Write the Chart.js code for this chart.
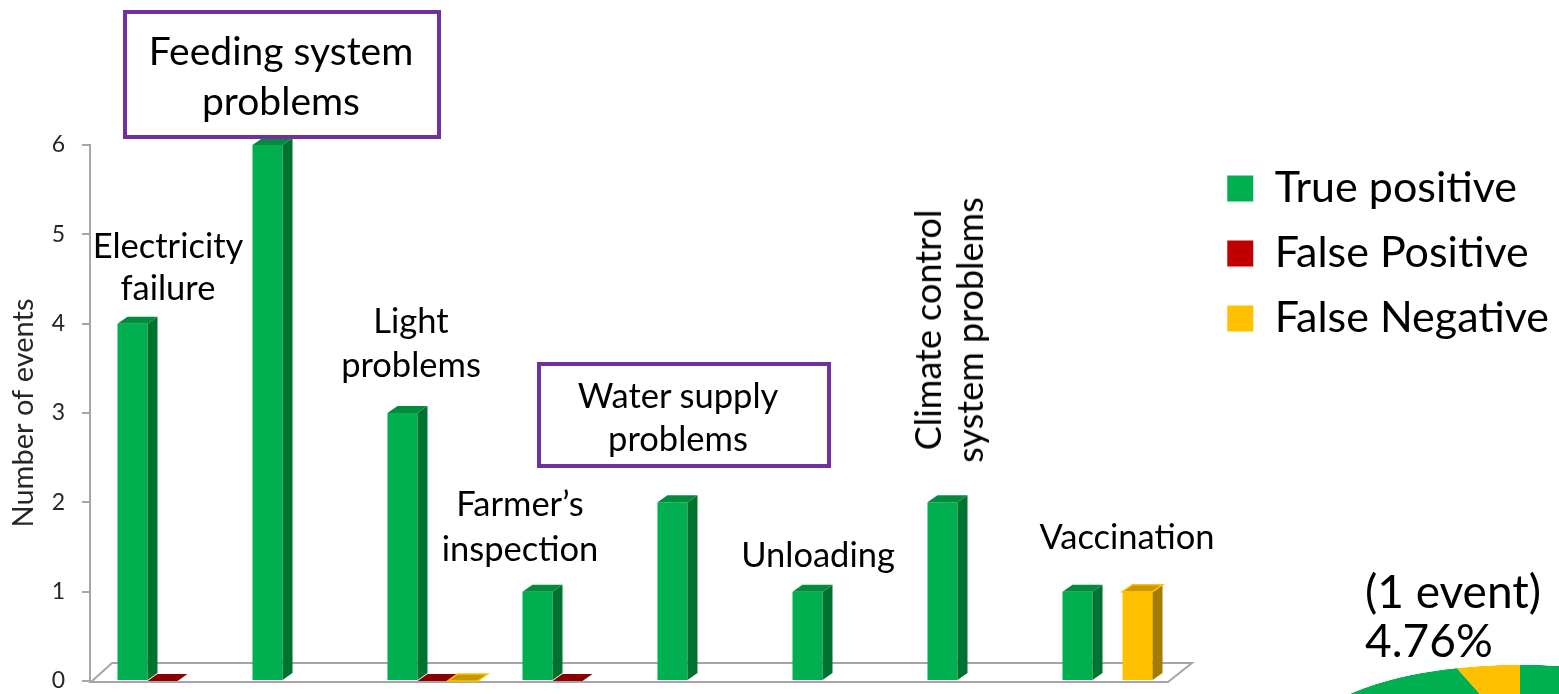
<!DOCTYPE html>
<html>
<head>
<meta charset="utf-8">
<script src="https://cdn.jsdelivr.net/npm/chart.js@4.4.0/dist/chart.umd.min.js"></script>
<style>
html, body { margin:0; padding:0; background:#fff; overflow:hidden; }
#wrap { position:relative; width:1559px; height:694px; overflow:hidden; font-family: Lato, sans-serif; }
#main_box { position:absolute; left:0; top:0; width:1559px; height:694px; }
#pie_box { position:absolute; left:1306px; top:525px; width:428px; height:428px; transform:scaleY(0.346); transform-origin:50% 50%; }
.note { position:absolute; color:#000; text-align:center; white-space:nowrap; transform:translate(-50%, -50%); font-size:34.5px; }
.frame { position:absolute; border:4px solid #7030a0; box-sizing:border-box; }
</style>
</head>
<body>
<div id="wrap">
  <div id="pie_box"><canvas id="pie_chart" width="428" height="428"></canvas></div>
  <div id="main_box"><canvas id="bar_chart"></canvas></div>

  <div class="frame" style="left:123px; top:10px; width:318px; height:129px;"></div>
  <div class="frame" style="left:537px; top:362px; width:294px; height:106px;"></div>

  <div class="note" style="left:281px; top:75px; line-height:50px; font-size:39px;">Feeding system<br>problems</div>
  <div class="note" style="left:168px; top:266px; line-height:42px;">Electricity<br>failure</div>
  <div class="note" style="left:411px; top:342px; line-height:44px;">Light<br>problems</div>
  <div class="note" style="left:520px; top:525px; line-height:45px;">Farmer’s<br>inspection</div>
  <div class="note" style="left:678px; top:416px; line-height:43px;">Water supply<br>problems</div>
  <div class="note" style="left:818px; top:553px;">Unloading</div>
  <div class="note" style="left:948px; top:330px; line-height:42px; font-size:36px; transform:translate(-50%, -50%) rotate(-90deg);">Climate control<br>system problems</div>
  <div class="note" style="left:1127px; top:535px;">Vaccination</div>
  <div class="note" style="left:1365px; top:615px; line-height:49px; text-align:left; transform:translate(0, -50%); font-size:46px;">(1 event)<br>4.76%</div>
</div>

<script>
//Chart values
const categories = ["Electricity failure", "Feeding system problems", "Light problems", "Farmer's inspection",
                    "Water supply problems", "Unloading", "Climate control system problems", "Vaccination"];
const true_positive = [4, 6, 3, 1, 2, 1, 2, 1];
const false_positive = [0, null, 0, 0, null, null, null, null];
const false_negative = [null, null, 0, null, null, null, null, 1];
const y_ticks = [0, 1, 2, 3, 4, 5, 6];
const pie_labels = ["True positive", "False Negative"];
const pie_values = [20, 1];

const FONT = "Lato";
const depth_x = 10, depth_y = 7;
const axis_x = 90;
const plot_left = 95, plot_right = 1175;

//Working out how much room the legend needs so its boxes land where the picture's do
const legend_font = 43, legend_pad = 22, legend_box = 26;
var m_ctx = document.createElement("canvas").getContext("2d");
m_ctx.font = legend_font + "px " + FONT;
var text_w = 0;
["True positive", "False Positive", "False Negative"].forEach(t => { text_w = Math.max(text_w, m_ctx.measureText(t).width); });
var legend_w = legend_pad + legend_box + legend_font / 2 + text_w + 10;
var pad_right = Math.max(0, 1559 - 1210 - legend_w);

//The bars only use part of the width, the rest is the gap before the legend
const trimPlugin = {
    id: "trimX",
    afterLayout(chart){
        const x = chart.scales.x;
        x.left = plot_left;
        x.right = plot_right;
        x.width = plot_right - plot_left;
        x.configure();
    }
};

//Floor of the 3D plot
const floorPlugin = {
    id: "floor3d",
    beforeDatasetsDraw(chart){
        const ctx = chart.ctx;
        const x = chart.scales.x;
        const base = chart.scales.y.getPixelForValue(0);
        ctx.save();
        ctx.beginPath();
        ctx.moveTo(axis_x + 1, base + 1);
        ctx.lineTo(x.right - 7, base + 1);
        ctx.lineTo(x.right + 17, base - 18);
        ctx.lineTo(axis_x + 22, base - 18);
        ctx.closePath();
        ctx.fillStyle = "#ffffff";
        ctx.fill();
        ctx.strokeStyle = "#a6a6a6";
        ctx.lineWidth = 2;
        ctx.stroke();
        ctx.restore();
    }
};

//Side and top faces of every bar
const bar3dPlugin = {
    id: "bar3d",
    afterDatasetsDraw(chart){
        const ctx = chart.ctx;
        ctx.save();
        for(let j = 0; j < categories.length; j++){
            chart.data.datasets.forEach((ds, i) => {
                if(ds.data[j] === null) return;
                const bar = chart.getDatasetMeta(i).data[j];
                const p = bar.getProps(["x", "y", "base", "width"], true);
                const l = p.x - p.width / 2, r = p.x + p.width / 2;
                if(p.base - p.y > 0.5){
                    ctx.beginPath();
                    ctx.moveTo(r, p.y);
                    ctx.lineTo(r + depth_x, p.y - depth_y);
                    ctx.lineTo(r + depth_x, p.base - depth_y);
                    ctx.lineTo(r, p.base);
                    ctx.closePath();
                    ctx.fillStyle = ds.sideColor;
                    ctx.fill();
                }
                ctx.beginPath();
                ctx.moveTo(l, p.y);
                ctx.lineTo(l + depth_x, p.y - depth_y);
                ctx.lineTo(r + depth_x, p.y - depth_y);
                ctx.lineTo(r, p.y);
                ctx.closePath();
                ctx.fillStyle = ds.topColor;
                ctx.fill();
                if(ds.edgeColor){
                    ctx.strokeStyle = ds.edgeColor;
                    ctx.lineWidth = 1.5;
                    ctx.stroke();
                }
            });
        }
        ctx.restore();
    }
};

const bar_ctx = document.getElementById("bar_chart").getContext("2d");
const bar_chart = new Chart(bar_ctx, {
    type: "bar",
    data: {
        labels: categories,
        datasets: [{
            label: "True positive",
            data: true_positive,
            backgroundColor: "#00b050",
            sideColor: "#00722f",
            topColor: "#008c3c"
        }, {
            label: "False Positive",
            data: false_positive,
            backgroundColor: "#c00000",
            sideColor: "#7a0000",
            topColor: "#8b0000"
        }, {
            label: "False Negative",
            data: false_negative,
            backgroundColor: "#ffc000",
            sideColor: "#a67c00",
            topColor: "#c89600",
            edgeColor: "#ffc000"
        }]
    },
    options: {
        responsive: true,
        maintainAspectRatio: false,
        animation: false,
        categoryPercentage: 0.667,
        barPercentage: 1.0,
        layout: { padding: { top: 145, right: pad_right, bottom: 13, left: 0 } },
        scales: {
            x: { display: false },
            y: {
                min: 0,
                max: 6,
                afterFit: s => { s.width = axis_x; s.paddingTop = 0; s.paddingBottom = 0; },
                afterBuildTicks: s => { s.ticks = y_ticks.map(v => ({ value: v })); },
                border: { display: true, color: "#a6a6a6", width: 2 },
                grid: { drawOnChartArea: false, drawTicks: true, tickLength: 8, color: "#a6a6a6", lineWidth: 2 },
                ticks: { color: "#262626", font: { family: FONT, size: 23 }, padding: 17 },
                title: { display: true, text: "Number of events", color: "#262626",
                         font: { family: FONT, size: 29 }, padding: { top: 6, bottom: 0 } }
            }
        },
        plugins: {
            tooltip: { enabled: false },
            legend: {
                position: "right",
                align: "start",
                labels: {
                    color: "#000",
                    font: { family: FONT, size: legend_font },
                    boxWidth: legend_box,
                    boxHeight: legend_box,
                    padding: legend_pad
                }
            }
        }
    },
    plugins: [trimPlugin, floorPlugin, bar3dPlugin]
});

//Bottom right pie, squashed flat like the 3D one in the picture
const pie_ctx = document.getElementById("pie_chart").getContext("2d");
const pie_chart = new Chart(pie_ctx, {
    type: "pie",
    data: {
        labels: pie_labels,
        datasets: [{
            data: pie_values,
            backgroundColor: ["#00b050", "#ffc000"],
            borderWidth: 0
        }]
    },
    options: {
        responsive: false,
        animation: false,
        layout: { padding: 0 },
        plugins: { legend: { display: false }, tooltip: { enabled: false } }
    }
});
</script>
</body>
</html>
